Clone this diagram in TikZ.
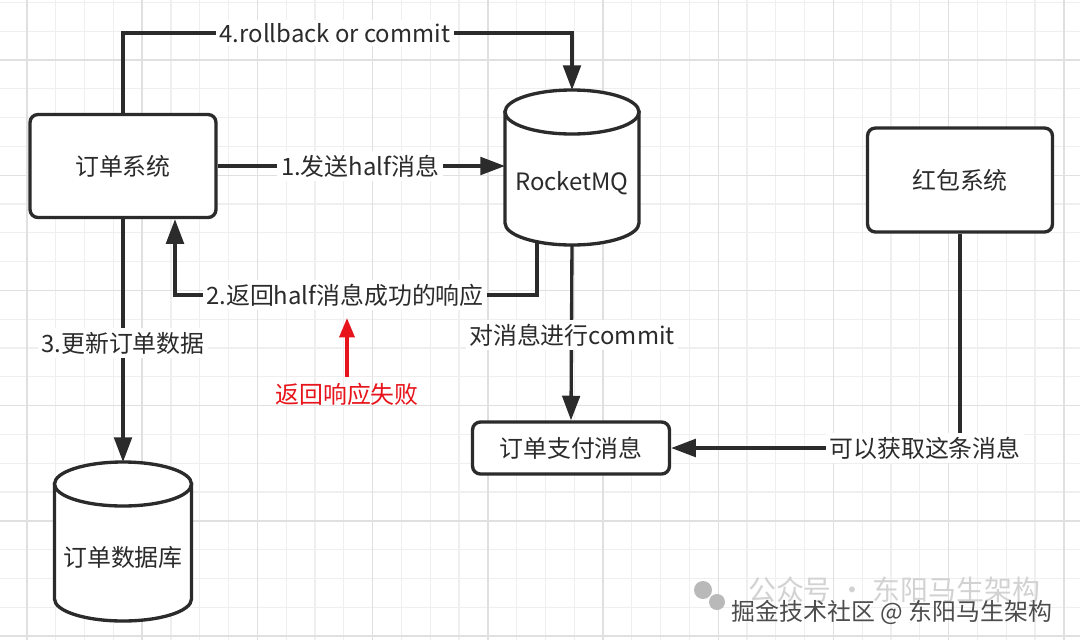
\documentclass[tikz,border=0pt]{standalone}
\usepackage{fontspec}
\setmainfont{Noto Sans CJK SC}
\usetikzlibrary{arrows.meta}

\definecolor{ink}{HTML}{2B2B2B}
\definecolor{gridminor}{HTML}{EFEFEF}
\definecolor{gridmajor}{HTML}{E0E0E0}
\definecolor{failred}{HTML}{E8141B}

\pgfdeclarelayer{grid}
\pgfdeclarelayer{lines}
\pgfdeclarelayer{shapes}
\pgfsetlayers{grid,lines,shapes,main}

% text sits a little below the middle of a cylinder
\newcommand{\lowtext}[1]{\raisebox{-0.32cm}[\height][\depth]{#1}}
% cylinder outline: #1 centre x, #2 top y, #3 bottom y, #4 half width (picture units)
\newcommand{\cylframe}[4]{%
	\filldraw[cylline] ({#1-#4},{#2+22}) -- ({#1-#4},{#3-22})
		.. controls ({#1-#4},{#3-9.85}) and ({#1-0.5523*#4},#3) .. (#1,#3)
		.. controls ({#1+0.5523*#4},#3) and ({#1+#4},{#3-9.85}) .. ({#1+#4},{#3-22})
		-- ({#1+#4},{#2+22}) -- cycle;
	\filldraw[cylline] ({#1-#4},{#2+22})
		.. controls ({#1-#4},{#2+9.85}) and ({#1-0.5523*#4},#2) .. (#1,#2)
		.. controls ({#1+0.5523*#4},#2) and ({#1+#4},{#2+9.85}) .. ({#1+#4},{#2+22})
		.. controls ({#1+#4},{#2+34.15}) and ({#1+0.5523*#4},{#2+44}) .. (#1,{#2+44})
		.. controls ({#1-0.5523*#4},{#2+44}) and ({#1-#4},{#2+34.15}) .. ({#1-#4},{#2+22}) -- cycle;
}

\tikzset{
	sysbox/.style={draw=ink, line width=1.9pt, rounded corners=4.5pt, fill=white, text=ink},
	cylbox/.style={inner sep=0pt, outer sep=0pt, text=ink},
	cylline/.style={line width=1.9pt, draw=ink, fill=white},
	edgelabel/.style={fill=white, inner sep=2pt, text=ink},
	flow/.style={draw=ink, line width=1.9pt, -{Triangle[length=14pt, width=10pt]}},
	failflow/.style={draw=failred, line width=2pt, -{Triangle[length=11pt, width=8.5pt]}},
}

\begin{document}
\begin{tikzpicture}[x=0.02cm, y=-0.02cm, font=\fontsize{13.6}{16}\selectfont]
	\useasboundingbox (0,0) rectangle (1080,640);
	% background grid
	\begin{pgfonlayer}{grid}
		\fill[white] (0,0) rectangle (1080,640);
		\foreach \k in {0,...,38} {
			\draw[gridminor, line width=0.6pt] ({-1.8+28.8*\k},0) -- ({-1.8+28.8*\k},640);
		}
		\foreach \k in {0,...,22} {
			\draw[gridminor, line width=0.6pt] (0,{2.4+28.8*\k}) -- (1080,{2.4+28.8*\k});
		}
		\foreach \k in {0,...,9} {
			\draw[gridmajor, line width=0.8pt] ({27+115.2*\k},0) -- ({27+115.2*\k},640);
		}
		\foreach \k in {0,...,5} {
			\draw[gridmajor, line width=0.8pt] (0,{60+115.2*\k}) -- (1080,{60+115.2*\k});
		}
	\end{pgfonlayer}
	% systems
	\node[sysbox, minimum width=3.72cm, minimum height=2.06cm] (order) at (123,166) {订单系统};
	\node[sysbox, minimum width=3.70cm, minimum height=2.08cm] (redpack) at (960,180) {红包系统};
	\node[sysbox, minimum width=3.94cm, minimum height=1.04cm] (paymsg) at (571,448) {订单支付消息};
	\node[cylbox, minimum width=2.68cm, minimum height=3.10cm] (mq) at (572,167.5) {\lowtext{RocketMQ}};
	\node[cylbox, minimum width=2.74cm, minimum height=3.18cm] (orderdb) at (123,541.5) {\lowtext{订单数据库}};
	\begin{pgfonlayer}{shapes}
		\cylframe{572}{90}{245}{67}
		\cylframe{123}{462}{621}{68.5}
	\end{pgfonlayer}
	% edge labels
	\node[edgelabel] (send) at (360,166) {1.发送half消息};
	\node[edgelabel] (reply) at (345,295) {2.返回half消息成功的响应};
	\node[edgelabel] (update) at (123,343) {3.更新订单数据};
	\node[edgelabel] (finish) at (335,33) {4.rollback or commit};
	\node[edgelabel] (commit) at (572,335) {对消息进行commit};
	\node[edgelabel] (fetch) at (925,448) {可以获取这条消息};
	\node[text=failred] (fail) at (347,394) {返回响应失败};
	\coordinate (failtip) at (347,318);
	% watermark
	\fill[gray!55] (703,590) circle (9);
	\fill[gray!55] (717,602) circle (8);
	\node[text=gray!35, font=\fontsize{15.9}{18}\selectfont] (wmone) at (894,590) {公众号 · 东阳马生架构};
	\node[text=black!70] (wmtwo) at (892,612) {掘金技术社区 @ 东阳马生架构};
	% connectors
	\begin{pgfonlayer}{lines}
		\draw[flow] (order.east) -- (order.east -| mq.west);
		\draw[flow] ([xshift=-0.7cm]mq.center) |- (reply.center) -| ([xshift=1.04cm]order.south);
		\draw[flow] (order.south) -- (orderdb.north);
		\draw[flow] (order.north) |- (finish.center) -| (mq.north);
		\draw[flow] (mq.south) -- (paymsg.north);
		\draw[flow] (redpack.south) |- (paymsg.east);
		\draw[failflow] (fail.north) -- (failtip);
	\end{pgfonlayer}
\end{tikzpicture}
\end{document}
